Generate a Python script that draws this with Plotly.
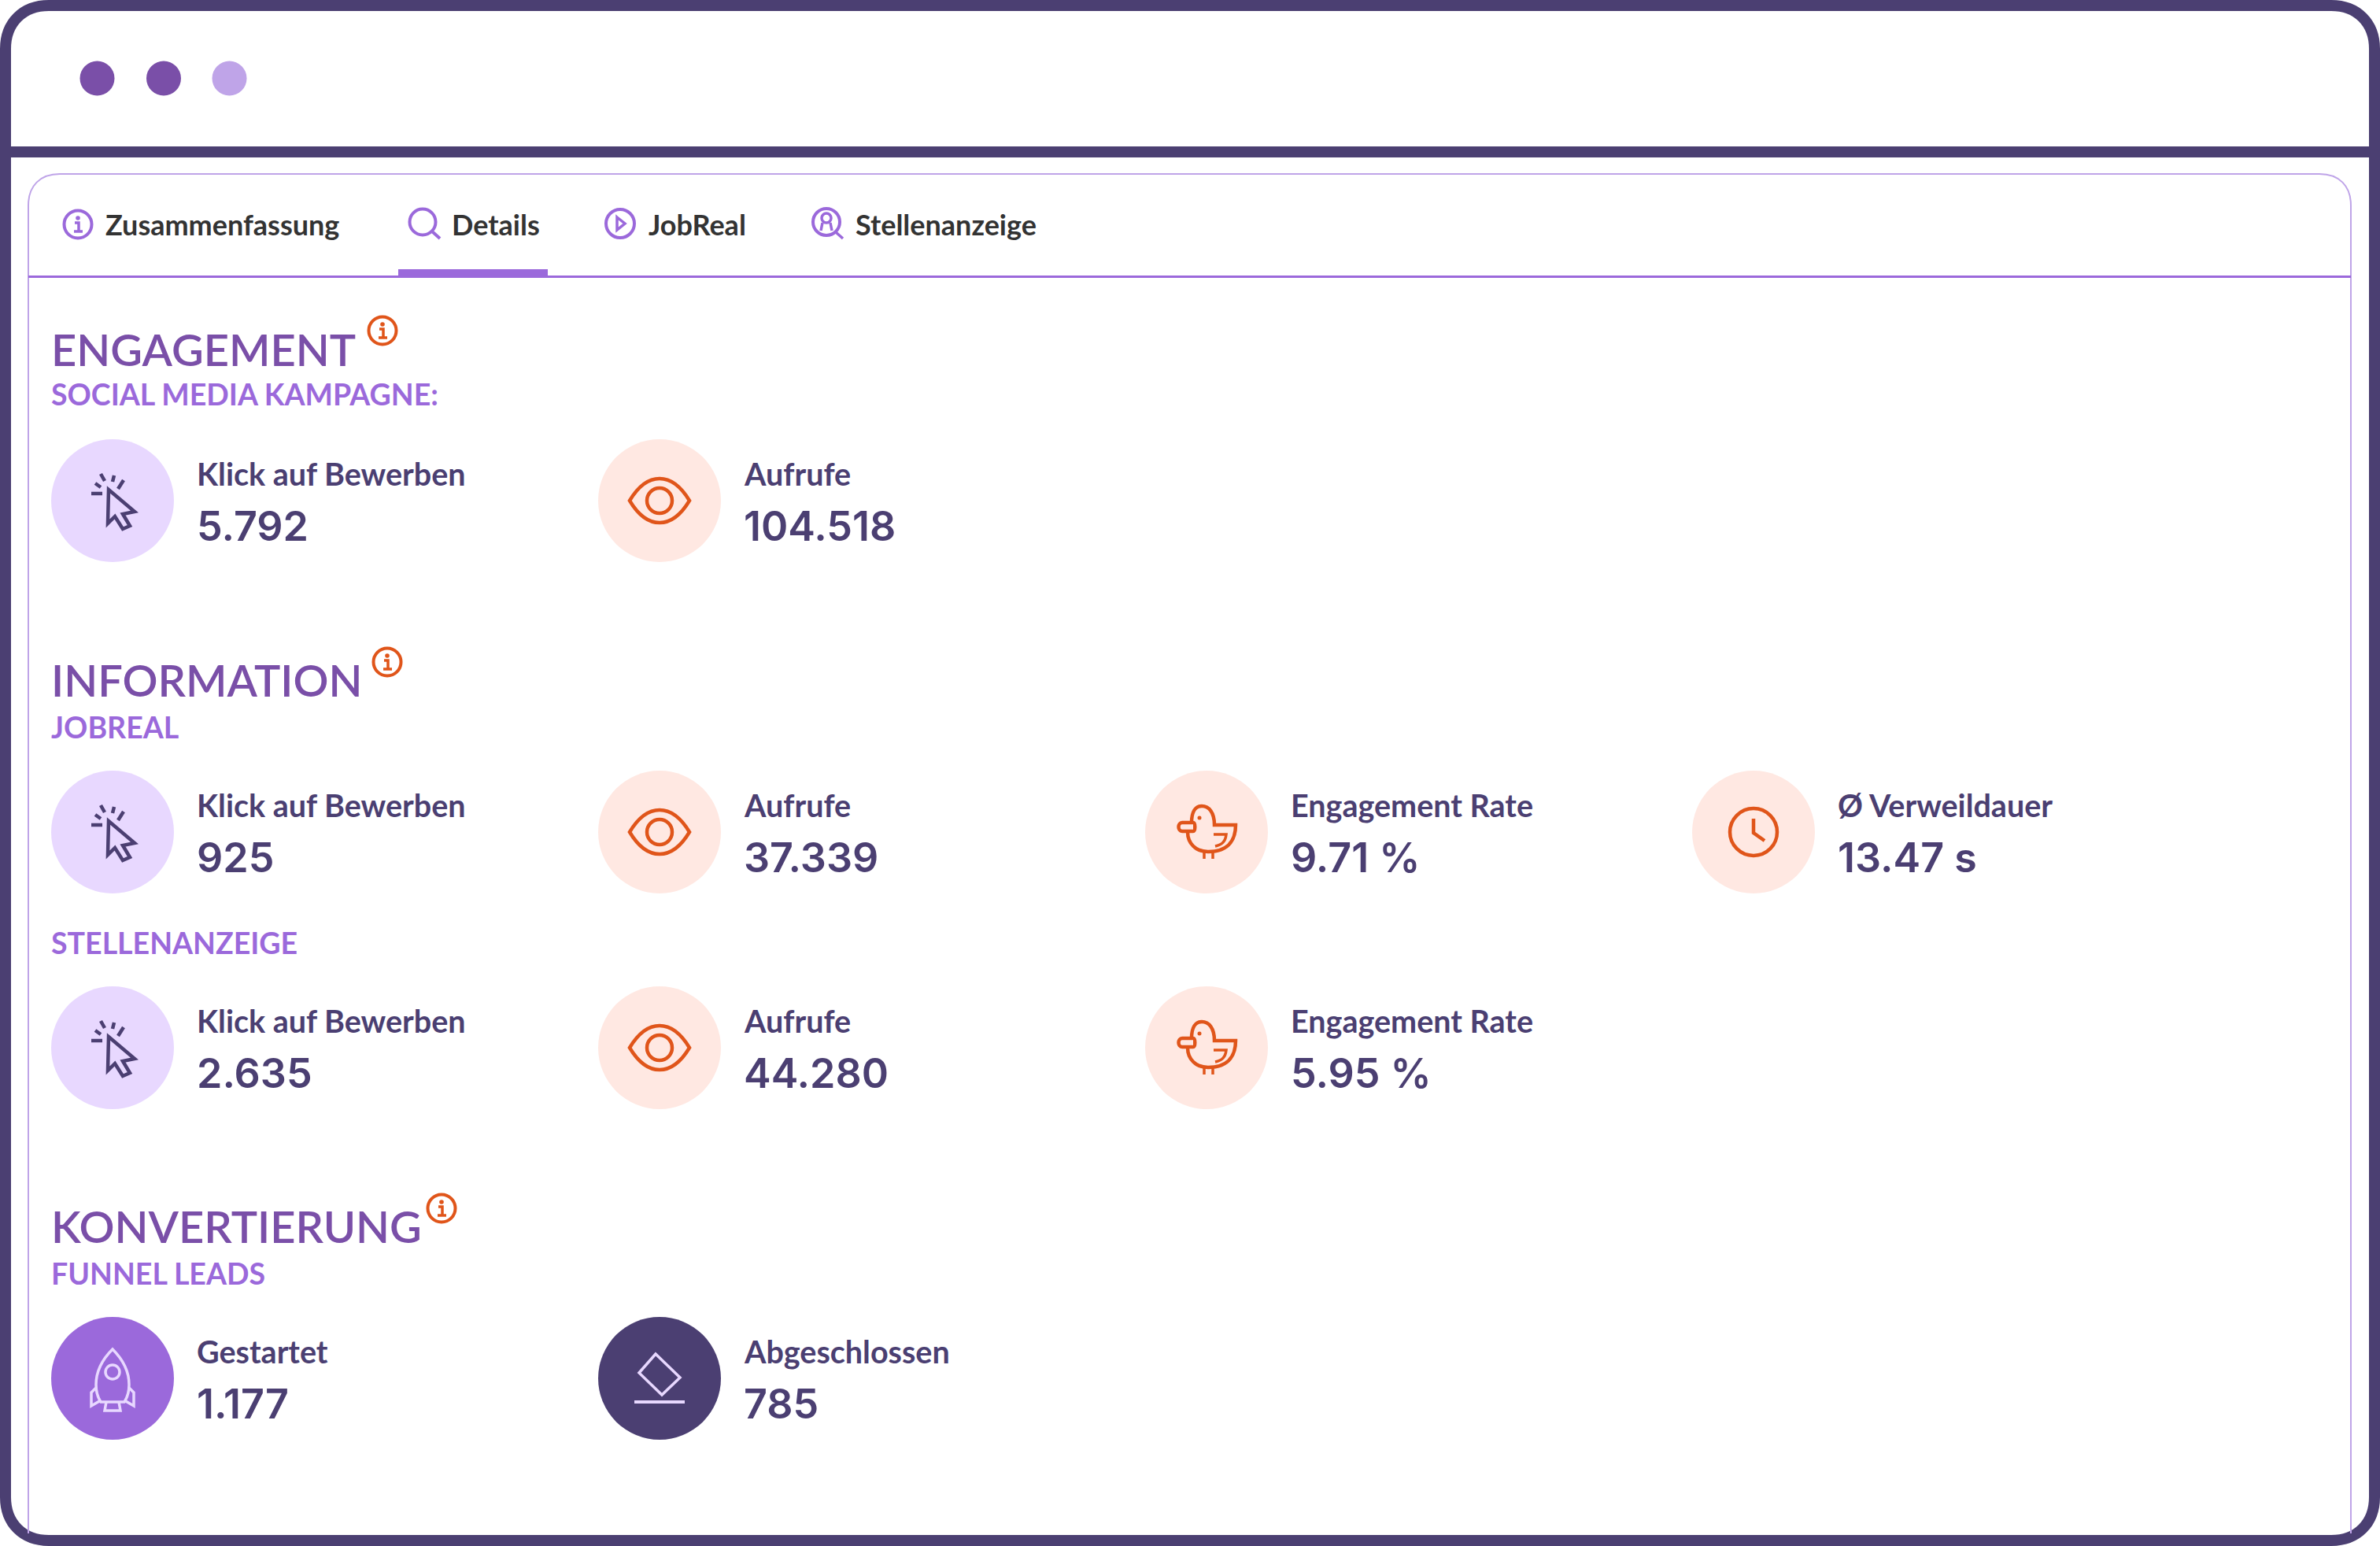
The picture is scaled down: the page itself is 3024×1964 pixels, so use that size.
import re
import plotly.graph_objects as go

# values
tab_labels = ["Zusammenfassung", "Details", "JobReal", "Stellenanzeige"]
section_titles = ["ENGAGEMENT", "INFORMATION", "KONVERTIERUNG"]
sub_titles = ["SOCIAL MEDIA KAMPAGNE:", "JOBREAL", "STELLENANZEIGE", "FUNNEL LEADS"]

social_labels = ["Klick auf Bewerben", "Aufrufe"]
social_values = ["5.792", "104.518"]
jobreal_labels = ["Klick auf Bewerben", "Aufrufe", "Engagement Rate", "Ø Verweildauer"]
jobreal_values = ["925", "37.339", "9.71 %", "13.47 s"]
stellen_labels = ["Klick auf Bewerben", "Aufrufe", "Engagement Rate"]
stellen_values = ["2.635", "44.280", "5.95 %"]
funnel_labels = ["Gestartet", "Abgeschlossen"]
funnel_values = ["1.177", "785"]

DARK = "#4B3F72"
PURPLE = "#7A4FA8"
MID = "#9B69DB"
LIGHT = "#BFA4E8"
PALE = "#E8D8FF"
ORANGE = "#E0551A"
PEACH = "#FFE8E2"
FONT = "Lato"

col_x = [143, 838, 1533, 2228]
shapes = []
notes = []


def shift(d, cx, cy):
    def rep(m):
        return "%.1f,%.1f" % (float(m.group(1)) + cx, float(m.group(2)) + cy)
    return re.sub(r"(-?\d+\.?\d*),(-?\d+\.?\d*)", rep, d)


def stroke(d, cx, cy, color, width=4, fill=None):
    shapes.append(dict(type="path", path=shift(d, cx, cy), line=dict(color=color, width=width),
                       fillcolor=fill if fill else "rgba(0,0,0,0)", xref="x", yref="y"))


def circle(cx, cy, r, color=None, line=None, width=0):
    shapes.append(dict(type="circle", x0=cx - r, x1=cx + r, y0=cy - r, y1=cy + r, xref="x", yref="y",
                       fillcolor=color if color else "rgba(0,0,0,0)",
                       line=dict(color=line if line else "rgba(0,0,0,0)", width=width)))


def text(x, y, s, size, color, weight=400, family=FONT):
    notes.append(dict(x=x, y=y, xref="x", yref="y", text=s, showarrow=False, xanchor="left", yanchor="middle",
                      font=dict(family=family, size=size, color=color, weight=weight)))


def cursor_icon(cx, cy):
    stroke("M-5,-14 L-6,29 L3,20 L13,36 L22,32 L13,17 L28,14 Z", cx, cy, DARK, 4.5)
    for d in ["M-27,-9 L-13,-9", "M-22,-22 L-15,-17", "M-15,-34 L-10,-25", "M2,-32 L0,-24", "M14,-26 L7,-15"]:
        stroke(d, cx, cy, DARK, 4.5)


def eye_icon(cx, cy):
    stroke("M-38,0 C-26,-20 -13,-28 0,-28 C13,-28 26,-20 38,0 C26,20 13,28 0,28 C-13,28 -26,20 -38,0 Z",
           cx, cy, ORANGE, 4.5)
    circle(cx, cy, 16, None, ORANGE, 4.5)


def chick_icon(cx, cy):
    stroke("M-19,-12 C-19,-26 -14,-33 -6,-33 C3,-33 10,-25 10,-9 L37,-9 C37,6 31,25 2,25 "
           "C-14,25 -24,14 -24,0", cx, cy, ORANGE, 4.5)
    stroke("M-31,-12 L-17,-12 C-14,-12 -14,-1 -17,-1 L-31,-1 C-37,-1 -37,-12 -31,-12 Z", cx, cy, ORANGE, 4.5)
    stroke("M9,3 L25,3 C24,12 20,16 11,18", cx, cy, ORANGE, 3.5)
    stroke("M-3,25 L-3,34", cx, cy, ORANGE, 3.5)
    stroke("M8,25 L8,34", cx, cy, ORANGE, 3.5)
    circle(cx - 9, cy - 18, 2.5, ORANGE)


def clock_icon(cx, cy):
    circle(cx, cy, 30, None, ORANGE, 4.5)
    stroke("M0,-17 L0,1 L14,11", cx, cy, ORANGE, 4.5)


def rocket_icon(cx, cy):
    stroke("M0,-37 C12,-25 21,-10 21,8 C21,17 19,24 15,30 L-15,30 C-19,24 -21,17 -21,8 C-21,-10 -12,-25 0,-37 Z",
           cx, cy, PALE, 3.5)
    circle(cx, cy - 8, 9, None, PALE, 3.5)
    stroke("M-21,12 L-27,18 L-27,35 L-15,28", cx, cy, PALE, 3.5)
    stroke("M21,12 L27,18 L27,35 L15,28", cx, cy, PALE, 3.5)
    stroke("M-8,30 L-10,41 L10,41 L8,30", cx, cy, PALE, 3.5)


def eraser_icon(cx, cy):
    stroke("M-5,-31 L26,-1 L3,21 L-26,-7 Z", cx, cy, PALE, 3.5)
    stroke("M-32,30 L32,30", cx, cy, PALE, 4)


def info_icon(cx, cy, color, r=17.5, w=4):
    circle(cx, cy, r, None, color, w)
    circle(cx, cy - 8, 2.8, color)
    stroke("M-4,-2 L1,-2 L1,9 M-5,9 L6,9", cx, cy, color, 3.5)


def card_row(labels, values, cy):
    for i, lab in enumerate(labels):
        cx = col_x[i]
        if lab.startswith("Klick"):
            circle(cx, cy, 78, PALE)
            cursor_icon(cx, cy)
        elif lab == "Aufrufe":
            circle(cx, cy, 78, PEACH)
            eye_icon(cx, cy)
        elif lab.startswith("Engagement"):
            circle(cx, cy, 78, PEACH)
            chick_icon(cx, cy)
        elif lab.startswith("Ø"):
            circle(cx, cy, 78, PEACH)
            clock_icon(cx, cy)
        elif lab == "Gestartet":
            circle(cx, cy, 78, MID)
            rocket_icon(cx, cy)
        else:
            circle(cx, cy, 78, DARK)
            eraser_icon(cx, cy)
        text(cx + 105, cy - 35, lab, 39.5, DARK, 700)
        text(cx + 105, cy + 32, values[i], 52, DARK, 600, "Inter")


# window frame
shapes.append(dict(type="path", xref="x", yref="y", fillcolor="white", line=dict(color=DARK, width=14),
                   path="M62,7 L2962,7 C2995,7 3017,29 3017,62 L3017,1902 C3017,1935 2995,1957 2962,1957 "
                        "L62,1957 C29,1957 7,1935 7,1902 L7,62 C7,29 29,7 62,7 Z"))
shapes.append(dict(type="rect", xref="x", yref="y", x0=7, x1=3017, y0=186, y1=200, fillcolor=DARK, line_width=0))
for dx, col in zip([123.5, 208, 291.5], [PURPLE, PURPLE, LIGHT]):
    circle(dx, 99.5, 22, col)

# inner card
stroke("M36,1948 L36,261 C36,236 51,221 76,221 L2947,221 C2972,221 2987,236 2987,261 L2987,1948", 0, 0, LIGHT, 2)
shapes.append(dict(type="rect", xref="x", yref="y", x0=36, x1=2987, y0=350, y1=353, fillcolor=MID, line_width=0))
shapes.append(dict(type="rect", xref="x", yref="y", x0=506, x1=696, y0=342, y1=351, fillcolor=MID, line_width=0))

# tabs
info_icon(99, 285, MID)
circle(537, 282, 16.5, None, MID, 4)
stroke("M549,294 L559,303", 0, 0, MID, 4)
circle(788, 284, 18, None, MID, 4)
stroke("M784,276 L794,284 L784,292 Z", 0, 0, MID, 3.5)
circle(1050, 282, 17, None, MID, 4)
circle(1050, 277, 6, None, MID, 3.5)
stroke("M1045,283 L1043,293 M1055,283 L1057,293 M1062,295 L1071,303", 0, 0, MID, 3.5)
for tx, lab in zip([132, 572, 822, 1085], tab_labels):
    text(tx, 285, lab, 36, "#333333", 700)

# sections
for ty, ix, iy, s in zip([443, 863, 1557], [486, 492, 561], [420, 841, 1535], section_titles):
    text(63, ty, s, 56, PURPLE, 600)
    info_icon(ix, iy, ORANGE)
for ty, s in zip([500, 923, 1197, 1617], sub_titles):
    text(63, ty, s, 37.5, MID, 700)

card_row(social_labels, social_values, 636)
card_row(jobreal_labels, jobreal_values, 1057)
card_row(stellen_labels, stellen_values, 1331)
card_row(funnel_labels, funnel_values, 1751)

fig = go.Figure()
fig.update_layout(width=3024, height=1964, margin=dict(l=0, r=0, t=0, b=0), paper_bgcolor="white",
                  plot_bgcolor="white", shapes=shapes, annotations=notes, showlegend=False)
fig.update_xaxes(range=[0, 3024], visible=False, fixedrange=True)
fig.update_yaxes(range=[1964, 0], visible=False, fixedrange=True)
fig.write_html("out.html", post_script="document.body.style.margin='0';", config=dict(displayModeBar=False))
